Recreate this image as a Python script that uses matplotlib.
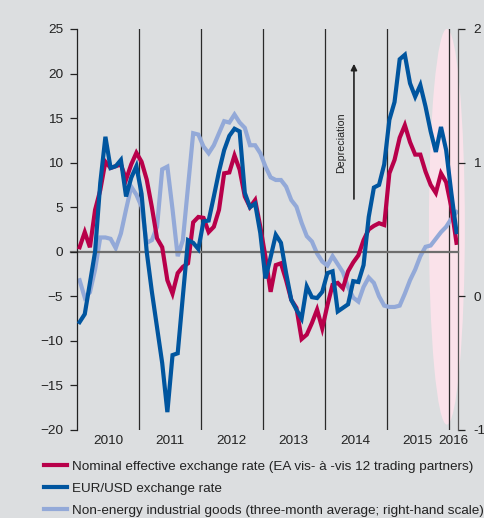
import numpy as np
import matplotlib
matplotlib.use('Agg')
import matplotlib.pyplot as plt
from matplotlib.patches import Ellipse

plt.rcParams['font.family'] = ['Liberation Sans', 'DejaVu Sans']

# monthly data, Jan 2010 - Feb 2016 (annual % changes)
neer = [0.5, 2.2, 0.5, 4.7, 6.9, 10.1, 9.4, 9.6, 9.8, 8.1, 9.8, 11.1,
        10.1, 8.1, 5.0, 1.5, 0.5, -3.2, -4.7, -2.4, -1.7, -1.3, 3.3, 3.9,
        3.8, 2.2, 2.8, 4.7, 8.8, 8.9, 10.8, 9.2, 6.2, 5.0, 5.8, 2.8,
        -0.6, -4.5, -1.5, -1.3, -3.2, -5.4, -6.3, -9.8, -9.3, -8.0, -6.5, -8.6,
        -6.0, -3.7, -3.5, -4.1, -2.2, -1.2, -0.4, 1.3, 2.5, 2.9, 3.2, 3.0,
        8.8, 10.3, 12.8, 14.2, 12.3, 10.9, 10.9, 9.0, 7.5, 6.6, 8.8, 7.8,
        5.0, 1.0]
eurusd = [-7.9, -7.0, -3.5, 0.0, 7.7, 12.9, 9.4, 9.6, 10.3, 6.2, 8.3, 9.6,
          6.5, 0.0, -4.5, -8.5, -12.5, -18.0, -11.6, -11.4, -5.0, 1.3, 1.0, 0.3,
          3.4, 3.5, 6.2, 9.0, 11.4, 13.0, 13.8, 13.5, 6.6, 5.0, 5.4, 2.1,
          -3.0, -0.6, 1.9, 1.0, -2.4, -5.4, -6.5, -7.5, -3.9, -5.1, -5.2, -4.5,
          -2.4, -2.2, -6.7, -6.3, -5.9, -3.3, -3.4, -1.5, 3.9, 7.2, 7.5, 9.8,
          14.8, 16.8, 21.6, 22.1, 18.9, 17.4, 18.7, 16.3, 13.5, 11.2, 14.0, 11.4,
          6.6, 2.2]
neig = [0.12, -0.01, 0.03, 0.20, 0.44, 0.44, 0.43, 0.36, 0.47, 0.65, 0.82, 0.76,
        0.67, 0.40, 0.42, 0.52, 0.95, 0.97, 0.65, 0.30, 0.42, 0.82, 1.22, 1.21,
        1.12, 1.07, 1.13, 1.22, 1.31, 1.30, 1.36, 1.30, 1.26, 1.13, 1.13, 1.07,
        0.97, 0.89, 0.87, 0.87, 0.82, 0.72, 0.67, 0.55, 0.45, 0.41, 0.32, 0.26,
        0.23, 0.30, 0.24, 0.18, 0.07, -0.01, -0.04, 0.07, 0.14, 0.10, 0.00, -0.07,
        -0.08, -0.08, -0.07, 0.02, 0.12, 0.20, 0.30, 0.37, 0.38, 0.43, 0.48, 0.52,
        0.58, 0.63]
years = ['2010', '2011', '2012', '2013', '2014', '2015', '2016']
labels = ['Nominal effective exchange rate (EA vis- à -vis 12 trading partners)',
          'EUR/USD exchange rate',
          'Non-energy industrial goods (three-month average; right-hand scale)']

RED = '#b8004a'
BLUE = '#00559f'
LIGHT = '#93a9d8'
BG = '#dcdee0'

x = 2010 + (np.arange(len(neer)) + 0.5) / 12
x_end = 2016.15

fig = plt.figure(figsize=(4.85, 5.18), dpi=100, facecolor=BG)
ax = fig.add_axes([0.1588, 0.170, 0.7856, 0.7741])
ax.set_facecolor(BG)
ax2 = ax.twinx()
ax.set_zorder(2)
ax.patch.set_visible(False)

# forecast highlight
ax2.add_patch(Ellipse((2015.97, 0.52), 0.58, 2.96, facecolor='#fae2ea',
                      edgecolor='none', zorder=0, clip_on=False))

for yr in range(2011, 2017):
    ax2.axvline(yr, color='#2a2a2a', lw=0.9, zorder=1)
ax.axhline(0, xmin=-0.017, xmax=1, color='#6e6e6e', lw=1.6, zorder=1,
           clip_on=False)

ax2.plot(x, neig, color=LIGHT, lw=3, solid_joinstyle='miter', zorder=2)
ax.plot(x, neer, color=RED, lw=3, solid_joinstyle='miter', zorder=3)
ax.plot(x, eurusd, color=BLUE, lw=3, solid_joinstyle='miter', zorder=4)

ax.set_xlim(2010, x_end)
ax.set_ylim(-20, 25)
ax.set_yticks(range(-20, 26, 5))
ax2.set_ylim(-1, 2)
ax2.set_yticks([-1, 0, 1, 2])
ax2.set_yticklabels(['-1', '0', '1', '2'])

centers = [y + 0.5 for y in range(2010, 2016)] + [(2016 + x_end) / 2]
ax.set_xticks(range(2011, 2017))
ax.set_xticklabels([])
ax.set_xticks(centers, minor=True)
ax.set_xticklabels(years, minor=True)
ax.tick_params(axis='x', which='both', length=0)
ax.tick_params(axis='x', which='minor', pad=4, labelsize=9.7, colors='#222222')
ax.tick_params(axis='y', length=5, width=0.9, pad=5, labelsize=9.7,
               colors='#222222', direction='out')
ax2.tick_params(axis='y', length=5, width=0.9, pad=6, labelsize=9.7,
                colors='#222222', direction='out')

for s in ['top', 'bottom', 'right']:
    ax.spines[s].set_visible(False)
for s in ['top', 'bottom', 'left']:
    ax2.spines[s].set_visible(False)
ax.spines['left'].set_color('#222222')
ax.spines['left'].set_linewidth(0.9)
ax2.spines['right'].set_color('#555555')
ax2.spines['right'].set_linewidth(0.9)

# depreciation arrow
ax.annotate('', xy=(2014.47, 21.4), xytext=(2014.47, 5.6),
            arrowprops=dict(arrowstyle='-|>', color='#222222', lw=1.2,
                            mutation_scale=9))
ax.text(2014.26, 12.2, 'Depreciation', rotation=90, ha='center', va='center',
        fontsize=7.7, color='#222222')

handles = [plt.Line2D([], [], color=c, lw=3) for c in (RED, BLUE, LIGHT)]
fig.legend(handles, labels, loc='upper left', bbox_to_anchor=(0.0905, 0.111),
           frameon=False, fontsize=9.7, handlelength=1.75, handletextpad=0.3,
           labelspacing=0.72, borderaxespad=0, borderpad=0,
           labelcolor='#222222')

fig.savefig('out.png', dpi=100, facecolor=BG)
